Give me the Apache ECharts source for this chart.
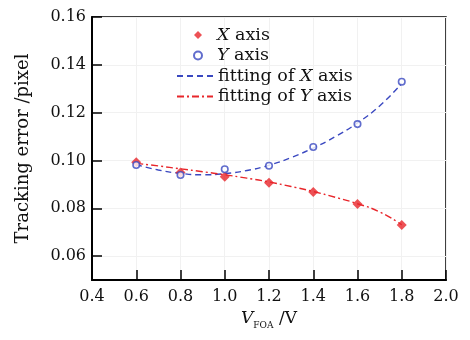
<!DOCTYPE html>
<html>
<head>
<meta charset="utf-8">
<script src="https://cdn.jsdelivr.net/npm/echarts@6/dist/echarts.min.js"></script>
<style>html,body{margin:0;padding:0;background:#fff;}#c{width:470px;height:340px;}</style>
</head>
<body>
<div id="c"></div>
<script>
const xPoints = [0.6, 0.8, 1.0, 1.2, 1.4, 1.6, 1.8];
const xAxisErr = [0.0992, 0.0950, 0.0932, 0.0907, 0.0868, 0.0818, 0.0730];
const yAxisErr = [0.0981, 0.0939, 0.0963, 0.0978, 0.1056, 0.1152, 0.1329];
const fitX = [0.6, 0.7, 0.8, 0.9, 1.0, 1.1, 1.2, 1.3, 1.4, 1.5, 1.6, 1.7, 1.8];
const fitOfXAxis = [0.0983, 0.0960, 0.0946, 0.0940, 0.0945, 0.0958, 0.0980, 0.1012, 0.1052, 0.1100, 0.1157, 0.1228, 0.1322];
const fitOfYAxis = [0.0988, 0.0977, 0.0965, 0.0953, 0.0940, 0.0926, 0.0910, 0.0891, 0.0870, 0.0846, 0.0819, 0.0785, 0.0731];
const yTicks = [0.06, 0.08, 0.10, 0.12, 0.14, 0.16];
const legendNames = ['X axis', 'Y axis', 'fitting of X axis', 'fitting of Y axis'];

const RED = '#e8262b', BLUE = '#3a48c0';
const FONT = 'DejaVu Serif';
const pairs = (xs, ys) => xs.map((x, i) => [x, ys[i]]);
const legendText = {
  fontFamily: FONT, fontSize: 17.5, color: '#111', lineHeight: 20,
  rich: { i: { fontFamily: FONT, fontSize: 17.5, fontStyle: 'italic', color: '#111', lineHeight: 20 } }
};
const legendFmt = name => name.replace(/([XY]) axis/, '{i|$1} axis');

const chart = echarts.init(document.getElementById('c'));
chart.setOption({
  animation: false,
  backgroundColor: '#fff',
  grid: { left: 92, top: 17, right: 24, bottom: 60, show: true, borderColor: '#000', borderWidth: 1.5, backgroundColor: 'transparent' },
  legend: [
    {
      data: legendNames.slice(0, 2),
      orient: 'vertical', left: 193, top: 25, padding: 0,
      itemWidth: 8, itemHeight: 8, itemGap: 0.5,
      textStyle: Object.assign({}, legendText, { padding: [0, 0, 0, 10] }),
      formatter: legendFmt
    },
    {
      data: legendNames.slice(2),
      orient: 'vertical', left: 176, top: 66, padding: 0,
      itemWidth: 36, itemHeight: 10, itemGap: 0.5,
      itemStyle: { opacity: 0 },
      textStyle: legendText,
      formatter: legendFmt
    }
  ],
  xAxis: {
    type: 'value', min: 0.4, max: 2.0, interval: 0.2,
    name: '{v|V}{s|FOA}{n| /V}',
    nameLocation: 'middle', nameGap: 29,
    nameTextStyle: {
      rich: {
        v: { fontFamily: FONT, fontSize: 17, fontStyle: 'italic', color: '#111', verticalAlign: 'bottom' },
        s: { fontFamily: FONT, fontSize: 9, color: '#111', verticalAlign: 'bottom', padding: [0, 0, -3, 0] },
        n: { fontFamily: FONT, fontSize: 17, color: '#111', verticalAlign: 'bottom' }
      }
    },
    axisLine: { lineStyle: { color: '#000', width: 2 } },
    axisTick: { inside: true, length: 10, lineStyle: { color: '#000', width: 1.5 } },
    axisLabel: { fontFamily: FONT, fontSize: 16, color: '#111', margin: 9, formatter: v => v.toFixed(1) },
    splitLine: { show: true, lineStyle: { color: '#f1f1f1', width: 1 } }
  },
  yAxis: {
    type: 'value', min: 0.05, max: 0.16,
    name: 'Tracking error /pixel',
    nameLocation: 'middle', nameGap: 60,
    nameTextStyle: { fontFamily: FONT, fontSize: 18, color: '#111' },
    axisLine: { show: true, lineStyle: { color: '#000', width: 2 } },
    axisTick: { show: true, inside: true, length: 10, customValues: yTicks, lineStyle: { color: '#000', width: 1.5 } },
    axisLabel: { fontFamily: FONT, fontSize: 16, color: '#111', margin: 6, customValues: yTicks, formatter: v => v.toFixed(2) },
    splitLine: { show: true, lineStyle: { color: '#f1f1f1', width: 1 } }
  },
  series: [
    {
      name: legendNames[0], type: 'scatter', data: pairs(xPoints, xAxisErr),
      symbol: 'diamond', symbolSize: 10, itemStyle: { color: RED }, z: 5
    },
    {
      name: legendNames[1], type: 'scatter', data: pairs(xPoints, yAxisErr),
      symbol: 'circle', symbolSize: 6.5, itemStyle: { color: '#fff', borderColor: BLUE, borderWidth: 1.6 }, z: 6
    },
    {
      name: legendNames[2], type: 'line', data: pairs(fitX, fitOfXAxis), smooth: true,
      showSymbol: false, itemStyle: { color: BLUE },
      lineStyle: { color: BLUE, width: 1.4, type: [6, 4] }
    },
    {
      name: legendNames[3], type: 'line', data: pairs(fitX, fitOfYAxis), smooth: true,
      showSymbol: false, itemStyle: { color: RED },
      lineStyle: { color: RED, width: 1.4, type: [7, 3, 2, 3] }
    }
  ]
});
</script>
</body>
</html>
